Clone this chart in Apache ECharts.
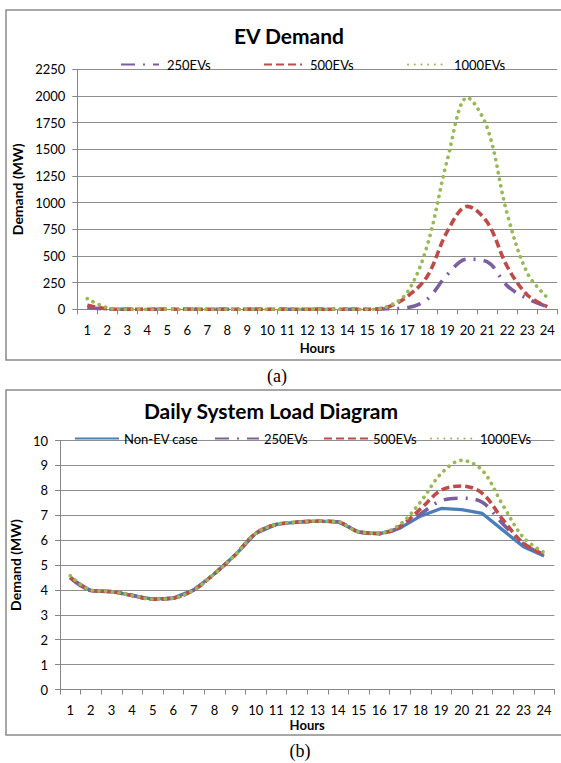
<!DOCTYPE html>
<html>
<head>
<meta charset="utf-8">
<script src="https://cdn.jsdelivr.net/npm/echarts@6/dist/echarts.min.js"></script>
<style>
html,body{margin:0;padding:0;background:#ffffff;}
#c{width:561px;height:763px;}
</style>
</head>
<body>
<div id="c"></div>
<script>
// ---------- data ----------
const hours = ['1','2','3','4','5','6','7','8','9','10','11','12','13','14','15','16','17','18','19','20','21','22','23','24'];

// (a) EV Demand
const evTicksA = [0, 250, 500, 750, 1000, 1250, 1500, 1750, 2000, 2250];
const ev250A  = [15, 3, 0, 0, 0, 0, 0, 0, 0, 0, 0, 0, 0, 0, 0, 5, 15, 95, 325, 470, 445, 220, 100, 25];
const ev500A  = [38, 5, 0, 0, 0, 0, 0, 0, 0, 0, 0, 0, 0, 0, 0, 20, 120, 310, 730, 965, 815, 400, 135, 25];
const ev1000A = [100, 15, 0, 0, 0, 0, 0, 0, 0, 0, 0, 0, 0, 0, 0, 25, 160, 600, 1400, 1985, 1700, 890, 340, 110];

// (b) Daily System Load Diagram
const loadTicksB = [0, 1, 2, 3, 4, 5, 6, 7, 8, 9, 10];
const nonEvB  = [4.47, 3.97, 3.93, 3.78, 3.63, 3.67, 4.00, 4.65, 5.40, 6.27, 6.63, 6.72, 6.76, 6.73, 6.33, 6.25, 6.48, 6.96, 7.27, 7.22, 7.07, 6.40, 5.73, 5.36];
const ev250B  = [4.49, 3.97, 3.93, 3.78, 3.63, 3.67, 4.00, 4.65, 5.40, 6.27, 6.63, 6.72, 6.76, 6.73, 6.33, 6.26, 6.50, 7.05, 7.58, 7.68, 7.52, 6.65, 5.85, 5.39];
const ev500B  = [4.51, 3.98, 3.93, 3.78, 3.63, 3.67, 4.00, 4.65, 5.40, 6.27, 6.63, 6.72, 6.76, 6.73, 6.33, 6.27, 6.55, 7.25, 8.00, 8.17, 7.88, 6.82, 5.87, 5.43];
const ev1000B = [4.57, 3.99, 3.93, 3.78, 3.63, 3.67, 4.00, 4.65, 5.40, 6.27, 6.63, 6.72, 6.76, 6.73, 6.33, 6.28, 6.63, 7.53, 8.67, 9.20, 8.80, 7.40, 6.10, 5.50];

// ---------- styles ----------
const FONT = 'Lato, "Open Sans", "DejaVu Sans", sans-serif';
const AXIS = '#868686';
const styles = {
  'Non-EV case': {color:'#4A7EBB', width:3.3, type:'solid'},
  '250EVs':      {color:'#7D5FA0', width:3.6, type:[14, 8, 2, 8]},
  '500EVs':      {color:'#BE4B48', width:3.6, type:[8, 4]},
  '1000EVs':     {color:'#98B954', width:3.7, type:[0.1, 6.6], cap:'round'}
};

function mkSeries(name, data, xi, smooth) {
  const s = styles[name];
  return {
    name: name, type: 'line', xAxisIndex: xi, yAxisIndex: xi,
    data: data, symbol: 'none', showSymbol: false, smooth: smooth,
    color: s.color,
    lineStyle: {color: s.color, width: s.width, type: s.type, cap: s.cap || 'butt'},
    emphasis: {disabled: true}, animation: false
  };
}

function mkX(gi, gap) {
  return {
    gridIndex: gi, type: 'category', data: hours, boundaryGap: true,
    axisLine: {show: true, lineStyle: {color: AXIS, width: 1}},
    axisTick: {show: true, interval: 0, length: 5, lineStyle: {color: AXIS}},
    axisLabel: {interval: 0, color: '#000', fontSize: 13, fontFamily: FONT, margin: 14},
    splitLine: {show: false},
    name: 'Hours', nameLocation: 'middle', nameGap: gap,
    nameTextStyle: {color: '#000', fontSize: 13, fontWeight: 'bold', fontFamily: FONT}
  };
}
function mkY(gi, ticks, gap) {
  return {
    gridIndex: gi, type: 'value',
    min: ticks[0], max: ticks[ticks.length - 1], interval: ticks[1] - ticks[0],
    axisLine: {show: true, lineStyle: {color: AXIS, width: 1}},
    axisTick: {show: true, length: 5, lineStyle: {color: AXIS}},
    axisLabel: {color: '#000', fontSize: 13, fontFamily: FONT, margin: 12,
                formatter: function (v) { return String(v); }},
    splitLine: {show: true, lineStyle: {color: '#8e8e8e', width: 1}},
    name: 'Demand (MW)', nameLocation: 'middle', nameGap: gap, nameRotate: 90,
    nameTextStyle: {color: '#000', fontSize: 14, fontWeight: 'bold', fontFamily: FONT}
  };
}
function mkLegend(name, left, top, w, pad) {
  return {
    data: [name], left: left, top: top, orient: 'horizontal',
    itemWidth: w, itemHeight: 14, itemGap: 0, selectedMode: false,
    itemStyle: {opacity: 0},
    textStyle: {color: '#000', fontSize: 13, fontFamily: FONT, padding: [0, 0, 0, pad]}
  };
}

const chart = echarts.init(document.getElementById('c'), null, {renderer: 'svg'});
chart.setOption({
  animation: false,
  backgroundColor: '#ffffff',
  grid: [
    {left: 77.3, top: 69.3, width: 480, height: 240, containLabel: false},
    {left: 50.4, top: 440.5, width: 504, height: 249, containLabel: false}
  ],
  xAxis: [mkX(0, 32), mkX(1, 29)],
  yAxis: [mkY(0, evTicksA, 48), mkY(1, loadTicksB, 24)],
  legend: [
    mkLegend('250EVs', 115, 53, 38, 3),
    mkLegend('500EVs', 258, 53, 38, 3),
    mkLegend('1000EVs', 402, 53, 38, 3),
    mkLegend('Non-EV case', 69, 427, 44, 0),
    mkLegend('250EVs', 209, 427, 44, 0),
    mkLegend('500EVs', 318, 427, 44, 0),
    mkLegend('1000EVs', 425, 427, 44, 0)
  ],
  series: [
    mkSeries('250EVs', ev250A, 0, 0.35),
    mkSeries('500EVs', ev500A, 0, 0.35),
    mkSeries('1000EVs', ev1000A, 0, 0.35),
    mkSeries('Non-EV case', nonEvB, 1, false),
    mkSeries('250EVs', ev250B, 1, 0.35),
    mkSeries('500EVs', ev500B, 1, 0.35),
    mkSeries('1000EVs', ev1000B, 1, 0.35)
  ],
  graphic: [
    {type: 'rect', z: -10, silent: true, shape: {x: 6, y: 10, width: 580, height: 350},
     style: {fill: 'none', stroke: '#8a8a8a', lineWidth: 1.5}},
    {type: 'rect', z: -10, silent: true, shape: {x: 6, y: 390, width: 580, height: 345},
     style: {fill: 'none', stroke: '#8a8a8a', lineWidth: 1.5}},
    {type: 'text', silent: true, x: 289, y: 35,
     style: {text: 'EV Demand', fill: '#000', font: 'bold 21px ' + FONT, textAlign: 'center', textVerticalAlign: 'middle'}},
    {type: 'text', silent: true, x: 271, y: 410,
     style: {text: 'Daily System Load Diagram', fill: '#000', font: 'bold 21px ' + FONT, textAlign: 'center', textVerticalAlign: 'middle'}},
    {type: 'text', silent: true, x: 277, y: 376,
     style: {text: '(a)', fill: '#000', font: '18px "Liberation Serif", "DejaVu Serif", serif', textAlign: 'center', textVerticalAlign: 'middle'}},
    {type: 'text', silent: true, x: 300, y: 751,
     style: {text: '(b)', fill: '#000', font: '18px "Liberation Serif", "DejaVu Serif", serif', textAlign: 'center', textVerticalAlign: 'middle'}}
  ]
});
</script>
</body>
</html>
